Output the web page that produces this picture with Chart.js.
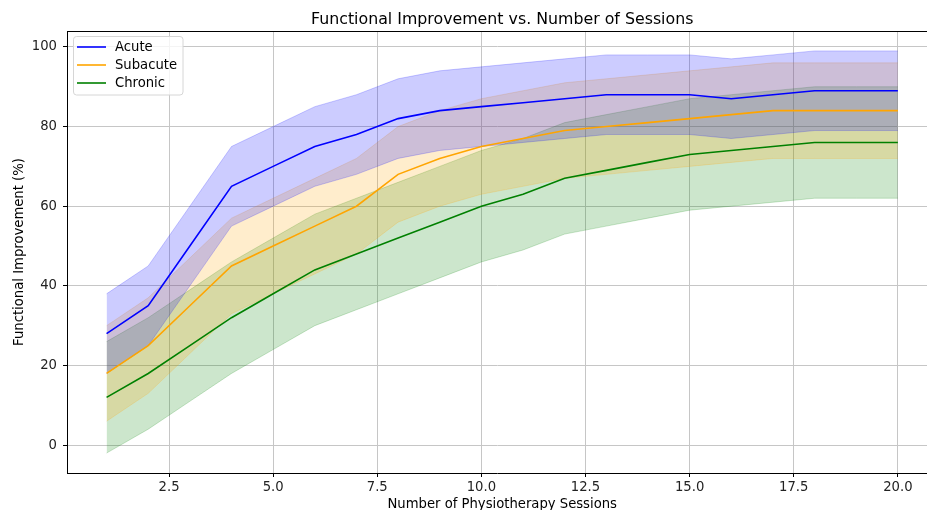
<!DOCTYPE html>
<html>
<head>
<meta charset="utf-8">
<script src="https://cdn.jsdelivr.net/npm/chart.js@4.4.0/dist/chart.umd.min.js"></script>
<style>
  body { margin: 0; background: #fff; }
  canvas { display: block; }
</style>
</head>
<body>
<canvas id="sessionsChart" width="927" height="510"></canvas>
<script>
// Data
const sessions = [1, 2, 3, 4, 5, 6, 7, 8, 9, 10, 11, 12, 13, 14, 15, 16, 17, 18, 19, 20];

const acuteMean  = [28, 35, 50, 65, 70, 75, 78, 82, 84, 85, 86, 87, 88, 88, 88, 87, 88, 89, 89, 89];
const acuteUpper = [38, 45, 60, 75, 80, 85, 88, 92, 94, 95, 96, 97, 98, 98, 98, 97, 98, 99, 99, 99];
const acuteLower = [18, 25, 40, 55, 60, 65, 68, 72, 74, 75, 76, 77, 78, 78, 78, 77, 78, 79, 79, 79];

const subacuteMean  = [18, 25, 35, 45, 50, 55, 60, 68, 72, 75, 77, 79, 80, 81, 82, 83, 84, 84, 84, 84];
const subacuteUpper = [30, 37, 47, 57, 62, 67, 72, 80, 84, 87, 89, 91, 92, 93, 94, 95, 96, 96, 96, 96];
const subacuteLower = [6, 13, 23, 33, 38, 43, 48, 56, 60, 63, 65, 67, 68, 69, 70, 71, 72, 72, 72, 72];

const chronicMean  = [12, 18, 25, 32, 38, 44, 48, 52, 56, 60, 63, 67, 69, 71, 73, 74, 75, 76, 76, 76];
const chronicUpper = [26, 32, 39, 46, 52, 58, 62, 66, 70, 74, 77, 81, 83, 85, 87, 88, 89, 90, 90, 90];
const chronicLower = [-2, 4, 11, 18, 24, 30, 34, 38, 42, 46, 49, 53, 55, 57, 59, 60, 61, 62, 62, 62];

const seriesNames = ['Acute', 'Subacute', 'Chronic'];
const xTickValues = [2.5, 5.0, 7.5, 10.0, 12.5, 15.0, 17.5, 20.0];
const yTickValues = [0, 20, 40, 60, 80, 100];

const chartTitle = 'Functional Improvement vs. Number of Sessions';
const xLabel = 'Number of Physiotherapy Sessions';
const yLabel = 'Functional Improvement (%)';

const FONT = '"DejaVu Sans", sans-serif';
const colors = ['#0000ff', '#ffa500', '#008000'];
const fills = ['rgba(0,0,255,0.2)', 'rgba(255,165,0,0.2)', 'rgba(0,128,0,0.2)'];
const gridColor = '#c6c6c6';

// x limits: the full axes runs to 20.95, but the picture is cut at the canvas edge
const xMin = 0.05, xMax = 20.7, xFullMax = 20.95;

const pts = (ys) => sessions.map((x, i) => ({ x: x, y: ys[i] }));

function band(lower, upper, idx) {
  return [
    {
      label: seriesNames[idx] + ' lower',
      data: pts(lower),
      borderColor: fills[idx],
      borderWidth: 1,
      pointRadius: 0,
      fill: false,
      order: 2,
    },
    {
      label: seriesNames[idx] + ' upper',
      data: pts(upper),
      borderColor: fills[idx],
      backgroundColor: fills[idx],
      borderWidth: 1,
      pointRadius: 0,
      fill: '-1',
      order: 2,
    },
  ];
}

function meanLine(ys, idx) {
  return {
    label: seriesNames[idx],
    data: pts(ys),
    borderColor: colors[idx],
    backgroundColor: colors[idx],
    borderWidth: 1.6,
    pointRadius: 0,
    fill: false,
    order: 0,
  };
}

// title, axis labels, top spine and the in-plot legend box
const decorations = {
  id: 'decorations',
  afterDraw(chart) {
    const ctx = chart.ctx;
    const area = chart.chartArea;
    const xs = chart.scales.x;
    const centre = (xs.getPixelForValue(xMin) + xs.getPixelForValue(xFullMax)) / 2;

    ctx.save();
    // top spine
    ctx.strokeStyle = '#000';
    ctx.lineWidth = 1;
    ctx.beginPath();
    ctx.moveTo(area.left, area.top + 0.5);
    ctx.lineTo(area.right, area.top + 0.5);
    ctx.stroke();

    ctx.fillStyle = '#000';
    ctx.textAlign = 'center';
    ctx.textBaseline = 'alphabetic';
    ctx.font = '15.8px ' + FONT;
    ctx.fillText(chartTitle, centre, 24);

    ctx.font = '13.2px ' + FONT;
    ctx.fillText(xLabel, centre, 508);

    ctx.save();
    ctx.translate(23, (area.top + area.bottom) / 2);
    ctx.rotate(-Math.PI / 2);
    ctx.fillText(yLabel, 0, 0);
    ctx.restore();

    // legend
    const bx = 73.5, by = 36.5, bw = 109.5, bh = 58.5;
    ctx.beginPath();
    ctx.roundRect(bx, by, bw, bh, 3);
    ctx.fillStyle = 'rgba(255,255,255,0.8)';
    ctx.fill();
    ctx.strokeStyle = '#d6d6d6';
    ctx.lineWidth = 1;
    ctx.stroke();

    ctx.textAlign = 'left';
    ctx.textBaseline = 'middle';
    seriesNames.forEach((name, i) => {
      const y = 47 + i * 18;
      ctx.strokeStyle = colors[i];
      ctx.lineWidth = 1.6;
      ctx.beginPath();
      ctx.moveTo(77, y);
      ctx.lineTo(106, y);
      ctx.stroke();
      ctx.fillStyle = '#000';
      ctx.fillText(name, 115, y + 1);
    });
    ctx.restore();
  },
};

new Chart(document.getElementById('sessionsChart'), {
  type: 'line',
  data: {
    datasets: [
      ...band(acuteLower, acuteUpper, 0),
      ...band(subacuteLower, subacuteUpper, 1),
      ...band(chronicLower, chronicUpper, 2),
      meanLine(acuteMean, 0),
      meanLine(subacuteMean, 1),
      meanLine(chronicMean, 2),
    ],
  },
  options: {
    responsive: false,
    animation: false,
    devicePixelRatio: 1,
    layout: { padding: { top: 31, right: 0, left: 0, bottom: 0 } },
    elements: { line: { tension: 0 } },
    plugins: {
      legend: { display: false },
      title: { display: false },
      tooltip: { enabled: false },
    },
    scales: {
      x: {
        type: 'linear',
        min: xMin,
        max: xMax,
        afterBuildTicks: (scale) => {
          scale.ticks = xTickValues.map((v) => ({ value: v }));
        },
        afterFit: (scale) => {
          scale.height = 37;
        },
        ticks: {
          autoSkip: false,
          maxRotation: 0,
          padding: 3,
          color: '#222',
          font: { family: FONT, size: 13.2 },
          callback: (v) => Number(v).toFixed(1),
        },
        grid: {
          color: gridColor,
          lineWidth: 1,
          tickLength: 4,
          tickColor: '#000',
        },
        border: { display: true, color: '#000', width: 1 },
      },
      y: {
        type: 'linear',
        min: -7,
        max: 104,
        afterBuildTicks: (scale) => {
          scale.ticks = yTickValues.map((v) => ({ value: v }));
        },
        afterFit: (scale) => {
          scale.width = 67;
        },
        ticks: {
          autoSkip: false,
          padding: 6,
          color: '#222',
          font: { family: FONT, size: 13.2 },
        },
        grid: {
          color: gridColor,
          lineWidth: 1,
          tickLength: 4,
          tickColor: '#000',
        },
        border: { display: true, color: '#000', width: 1 },
      },
    },
  },
  plugins: [decorations],
});
</script>
</body>
</html>
